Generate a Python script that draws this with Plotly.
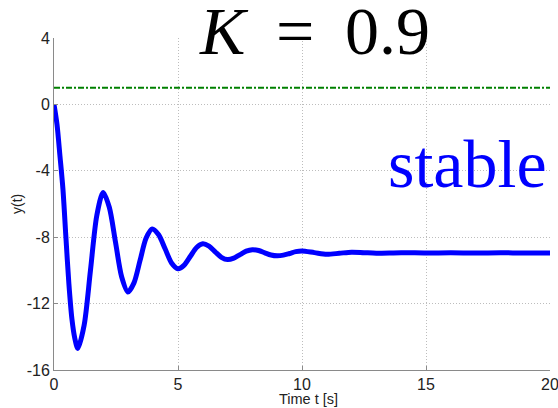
import plotly.graph_objects as go

# Time samples [s] and response y(t)
t = [0.0, 0.12, 0.24, 0.36, 0.48, 0.6, 0.72, 0.84, 0.96,
     1.215, 1.47, 1.725, 1.98,
     2.23, 2.48, 2.73, 2.98,
     3.225, 3.47, 3.715, 3.96,
     4.22, 4.48, 4.74, 5.0,
     5.25, 5.5, 5.75, 6.0,
     6.25, 6.5, 6.75, 7.0,
     7.25, 7.5, 7.75, 8.0,
     8.25, 8.5, 8.75, 9.0,
     9.25, 9.5, 9.75, 10.0,
     10.5, 11.0, 11.5, 12.0, 12.5, 13.0, 14.0, 15.0, 16.0, 17.0, 18.0, 19.0, 20.0]
y = [0.0, -1.2, -3.1, -5.1, -8.0, -10.8, -12.9, -14.1, -14.7,
     -13.3, -10.0, -6.7, -5.3,
     -6.2, -8.3, -10.4, -11.3,
     -10.75, -9.4, -8.05, -7.5,
     -7.85, -8.7, -9.55, -9.9,
     -9.68, -9.15, -8.62, -8.4,
     -8.54, -8.88, -9.21, -9.35,
     -9.26, -9.05, -8.84, -8.75,
     -8.8, -8.94, -9.07, -9.12,
     -9.08, -8.98, -8.87, -8.83,
     -8.93, -9.03, -8.97, -8.9, -8.93, -8.96, -8.93, -8.95, -8.94, -8.95, -8.94, -8.95, -8.95]

# Reference level
ref_t = [0, 20]
ref_y = [1, 1]

x_ticks = [0, 5, 10, 15, 20]
y_ticks = [4, 0, -4, -8, -12, -16]

fig = go.Figure()
fig.add_trace(go.Scatter(x=ref_t, y=ref_y, mode="lines",
                         line=dict(color="rgb(0,128,0)", width=2, dash="6px,2px,2px,2px"),
                         showlegend=False, hoverinfo="skip"))
fig.add_trace(go.Scatter(x=t, y=y, mode="lines",
                         line=dict(color="rgb(0,0,255)", width=5, shape="spline", smoothing=0.8),
                         showlegend=False))

axis_common = dict(
    showgrid=True, gridcolor="#bdbdbd", griddash="1px,2px", gridwidth=1,
    showline=True, linecolor="#8a8a8a", linewidth=1, mirror=False,
    ticks="inside", ticklen=4, tickcolor="#8a8a8a",
    zeroline=False, automargin=False, ticklabeloverflow="allow",
    tickfont=dict(family="Liberation Sans, Arial", size=16, color="#222"),
)

fig.update_xaxes(range=[0, 20], tickvals=x_ticks, ticktext=[str(v) for v in x_ticks], **axis_common)
fig.update_yaxes(range=[-16, 4], tickvals=y_ticks, ticktext=[str(v) for v in y_ticks], **axis_common)

W, H = 558, 408
ML, MR, MT, MB = 54, 8, 38, 38
PW, PH = W - ML - MR, H - MT - MB

def px(xp):
    return (xp - ML) / PW

def py(yp):
    return (H - MB - yp) / PH

fig.add_annotation(text="Time t [s]", xref="paper", yref="paper",
                   x=px(308), y=py(399), xanchor="center", yanchor="middle", showarrow=False,
                   font=dict(family="Liberation Sans, Arial", size=14.5, color="#222"))
fig.add_annotation(text="y(t)", xref="paper", yref="paper", textangle=-90,
                   x=px(17), y=py(204), xanchor="center", yanchor="middle", showarrow=False,
                   font=dict(family="Liberation Sans, Arial", size=14, color="#222"))

fig.add_annotation(text="<i>K</i>&#8201; = &#8201;0.9", xref="paper", yref="paper",
                   x=px(314), y=py(31), xanchor="center", yanchor="middle",
                   showarrow=False,
                   font=dict(family="Liberation Serif, Times New Roman", size=68, color="black"))
fig.add_annotation(text="stable", xref="paper", yref="paper",
                   x=0.998, y=0.62, xanchor="right", yanchor="middle",
                   showarrow=False,
                   font=dict(family="Liberation Serif, Times New Roman", size=68, color="rgb(0,0,255)"))

fig.update_layout(
    width=W, height=H,
    margin=dict(l=ML, r=MR, t=MT, b=MB),
    plot_bgcolor="white", paper_bgcolor="white",
)

fig.write_html("out.html")
